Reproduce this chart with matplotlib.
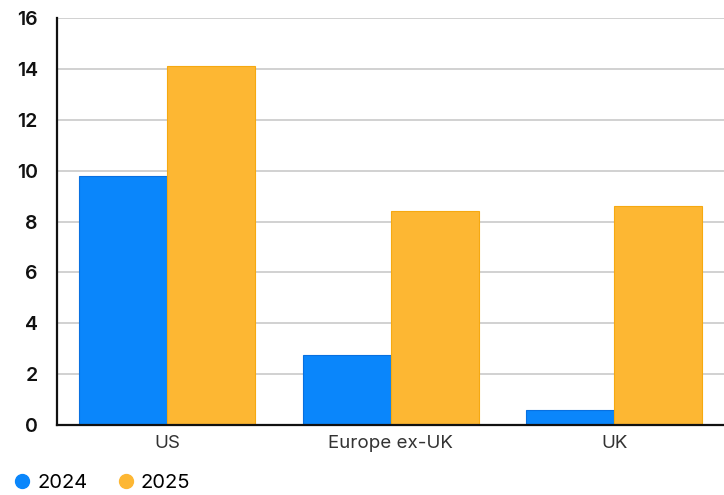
import matplotlib
matplotlib.use("Agg")
import matplotlib.pyplot as plt
from matplotlib.lines import Line2D
import numpy as np

plt.rcParams['font.family'] = ['Inter', 'DejaVu Sans']

categories = ["US", "Europe ex-UK", "UK"]
values_2024 = [9.8, 2.75, 0.6]
values_2025 = [14.1, 8.4, 8.6]
series_labels = ["2024", "2025"]
y_ticks = [0, 2, 4, 6, 8, 10, 12, 14, 16]

blue = "#0a86fb"
orange = "#fdb733"

fig = plt.figure(figsize=(7.24, 4.95), dpi=100)
ax = fig.add_axes([0.079, 0.1414, 0.921, 0.822])

x = np.arange(len(categories))
width = 0.393
ax.bar(x - width / 2, values_2024, width, color=blue, edgecolor="#0870e0", linewidth=0.8, zorder=3)
ax.bar(x + width / 2, values_2025, width, color=orange, edgecolor="#f6a911", linewidth=0.8, zorder=3)

ax.set_xlim(-0.49, 2.49)
ax.set_ylim(0, 16)
ax.set_yticks(y_ticks)
ax.set_yticklabels([str(t) for t in y_ticks], fontsize=14, fontweight="semibold", color="#111111")
ax.set_xticks(x)
ax.set_xticklabels(categories, fontsize=13.5, color="#333333")
ax.tick_params(axis="y", length=0, pad=14)
ax.tick_params(axis="x", length=0, pad=7)

ax.grid(axis="y", color="#c9c9c9", linewidth=1.2, zorder=0)
ax.set_axisbelow(True)
for side in ["top", "right"]:
    ax.spines[side].set_visible(False)
ax.spines["left"].set_color("#111111")
ax.spines["left"].set_linewidth(1.6)
ax.spines["bottom"].set_color("#111111")
ax.spines["bottom"].set_linewidth(1.6)
ax.spines["bottom"].set_zorder(4)

handles = [
    Line2D([], [], marker="o", linestyle="", markersize=10, color=blue, label=series_labels[0]),
    Line2D([], [], marker="o", linestyle="", markersize=10, color=orange, label=series_labels[1]),
]
fig.legend(handles=handles, loc="lower left", bbox_to_anchor=(-0.008, -0.03), ncol=2,
           frameon=False, fontsize=14.5, handletextpad=0.25, columnspacing=1.4, handlelength=1.0)

fig.savefig("out.png", dpi=100)
